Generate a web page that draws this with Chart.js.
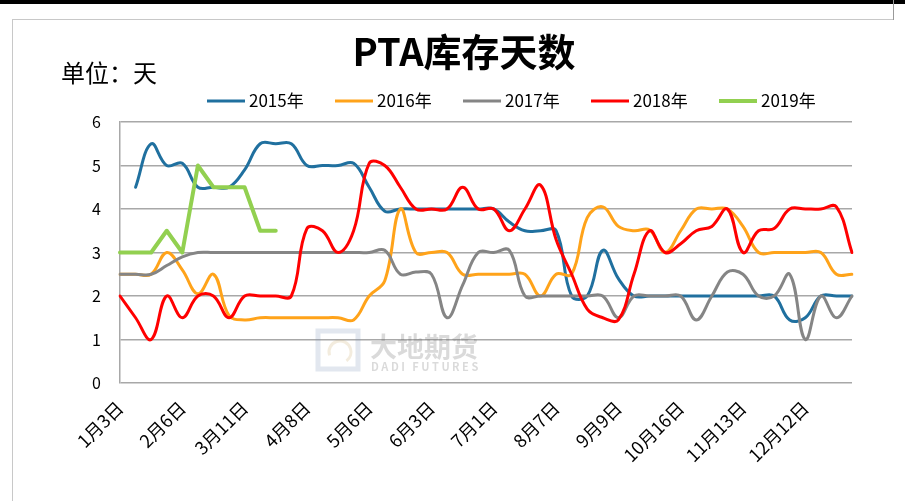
<!DOCTYPE html>
<html><head><meta charset="utf-8">
<script src="https://cdn.jsdelivr.net/npm/chart.js@4/dist/chart.umd.min.js"></script>
<style>
html,body{margin:0;padding:0;background:#fff;}
#wrap{position:relative;width:905px;height:501px;overflow:hidden;background:#fff;}
#topbar{position:absolute;left:0;top:0;width:905px;height:4px;background:#000;}
#frame{position:absolute;left:12px;top:19px;width:881px;height:500px;border-left:1px solid #c8c8c8;border-top:1px solid #c8c8c8;}
#rtick{position:absolute;left:893px;top:0;width:1px;height:20px;background:#9a9a9a;}
canvas{position:absolute;left:0;top:0;}
</style></head>
<body><div id="wrap"><div id="topbar"></div><div id="frame"></div><div id="rtick"></div><canvas id="c" width="905" height="501"></canvas></div>
<script>
const chartTitle = 'PTA库存天数';
const unitLabel = '单位：天';
const categories = ['1月3日','1月10日','1月17日','1月24日','2月6日','2月13日','2月20日','3月4日',
 '3月11日','3月18日','3月25日','4月1日','4月8日','4月15日','4月22日','4月29日',
 '5月6日','5月13日','5月20日','5月27日','6月3日','6月10日','6月17日','6月24日',
 '7月1日','7月8日','7月15日','7月29日','8月7日','8月14日','8月21日','8月28日',
 '9月9日','9月16日','9月23日','9月30日','10月16日','10月23日','10月30日','11月6日',
 '11月13日','11月20日','11月27日','12月5日','12月12日','12月19日','12月26日','12月31日'];
const seriesNames = ['2015年','2016年','2017年','2018年','2019年'];
const s2015 = [null,4.5,5.5,5.0,5.05,4.5,4.5,4.5,4.9,5.5,5.5,5.5,5.0,5.0,5.0,5.05,4.5,3.95,4.0,4.0,4.0,4.0,4.0,4.0,4.0,3.7,3.5,3.5,3.5,2.0,2.0,3.05,2.4,2.0,2.0,2.0,2.0,2.0,2.0,2.0,2.0,2.0,2.0,1.45,1.5,2.0,2.0,2.0];
const s2016 = [2.5,2.5,2.5,3.0,2.6,2.05,2.5,1.55,1.45,1.5,1.5,1.5,1.5,1.5,1.5,1.45,2.0,2.35,4.0,3.0,3.0,3.0,2.5,2.5,2.5,2.5,2.5,2.0,2.5,2.5,3.8,4.05,3.6,3.5,3.52,3.0,3.5,4.0,4.0,4.0,3.6,3.0,3.0,3.0,3.0,3.0,2.5,2.5];
const s2017 = [2.5,2.5,2.5,2.7,2.9,3.0,3.0,3.0,3.0,3.0,3.0,3.0,3.0,3.0,3.0,3.0,3.0,3.05,2.5,2.55,2.5,1.5,2.25,3.0,3.0,3.05,2.0,2.0,2.0,2.0,2.0,2.0,1.5,2.0,2.0,2.0,2.0,1.45,2.0,2.55,2.5,2.0,2.0,2.5,1.0,2.0,1.5,2.0];
const s2018 = [2.0,1.5,1.0,2.0,1.5,2.0,2.0,1.5,2.0,2.0,2.0,2.0,3.55,3.5,3.0,3.5,5.05,5.0,4.5,4.0,4.0,4.0,4.5,4.0,4.0,3.5,4.0,4.55,3.3,2.5,1.7,1.5,1.45,2.5,3.5,3.0,3.2,3.5,3.6,4.0,3.0,3.5,3.55,4.0,4.0,4.0,4.05,3.0];
const s2019 = [3.0,3.0,3.0,3.5,3.0,5.0,4.5,4.5,4.5,3.5,3.5];
const yTicks = [0,1,2,3,4,5,6];
const colors = ['#20709f','#ffa31a','#858585','#ff0000','#92d050'];
const widths = [3,3,3,3,4];
const FAMILY = '"Noto Sans CJK SC","Noto Sans",sans-serif';

Chart.defaults.font.family = FAMILY;

const allSeries = [s2015,s2016,s2017,s2018,s2019];
const datasets = allSeries.map((d,i)=>({
  label: seriesNames[i], data: d, borderColor: colors[i], backgroundColor: colors[i],
  borderWidth: widths[i], pointRadius: 0, pointHoverRadius: 0,
  tension: i===4 ? 0 : 0.4, order: 5-i, borderCapStyle:'round', borderJoinStyle:'round'
}));

const decor = {
  id:'decor',
  beforeDatasetsDraw(chart){
    const ctx = chart.ctx; ctx.save();
    ctx.globalAlpha = 0.22;
    ctx.strokeStyle = '#7a93b8'; ctx.lineWidth = 5;
    ctx.strokeRect(318,331,40,38);
    ctx.strokeStyle = '#c9a86a'; ctx.lineWidth = 3;
    ctx.beginPath(); ctx.arc(340,352,11,Math.PI*0.9,Math.PI*2.3); ctx.stroke();
    ctx.fillStyle = '#555';
    ctx.font = 'bold 27px ' + FAMILY; ctx.textBaseline='middle'; ctx.textAlign='left';
    ctx.fillText('大地期货',370,347);
    ctx.font = 'bold 11px ' + FAMILY;
    ctx.fillText('D A D I   F U T U R E S',371,367);
    ctx.restore();
  },
  afterDraw(chart){
    const ctx = chart.ctx; ctx.save();
    ctx.fillStyle='#000'; ctx.textBaseline='middle';
    ctx.font = 'bold 38px ' + FAMILY; ctx.textAlign='center';
    ctx.fillText(chartTitle,464,52);
    ctx.font = '24px ' + FAMILY; ctx.textAlign='left';
    ctx.fillText(unitLabel,61,73);
    ctx.font = '17px ' + FAMILY;
    chart.data.datasets.forEach((ds,i)=>{
      const x = 207 + i*128, y = 101;
      ctx.strokeStyle = ds.borderColor; ctx.lineWidth = ds.borderWidth;
      ctx.beginPath(); ctx.moveTo(x,y); ctx.lineTo(x+38,y); ctx.stroke();
      ctx.fillStyle='#000'; ctx.fillText(ds.label,x+42,y);
    });
    ctx.restore();
  }
};

new Chart(document.getElementById('c'),{
  type:'line',
  data:{labels:categories, datasets},
  options:{
    responsive:false, animation:false,
    layout:{padding:{top:122,left:0,right:53,bottom:0}},
    plugins:{legend:{display:false}, title:{display:false}, tooltip:{enabled:false}},
    scales:{
      x:{
        grid:{display:false, drawTicks:false}, border:{display:false},
        ticks:{autoSkip:false, minRotation:45, maxRotation:45, padding:14, color:'#000',
          font:{size:18, family:FAMILY},
          callback:(v,i)=> i%4===0 ? categories[i] : null},
        afterFit:(s)=>{s.height=118;}
      },
      y:{
        min:0, max:6,
        afterBuildTicks:(s)=>{s.ticks = yTicks.map(v=>({value:v}));},
        ticks:{padding:19, color:'#000', font:{size:16, family:FAMILY}},
        grid:{color:'#a8a8a8', lineWidth:1.5, drawTicks:false},
        border:{display:true, color:'#a8a8a8', width:1.5},
        afterFit:(s)=>{s.width=120;}
      }
    }
  },
  plugins:[decor]
});
</script>
</body></html>
